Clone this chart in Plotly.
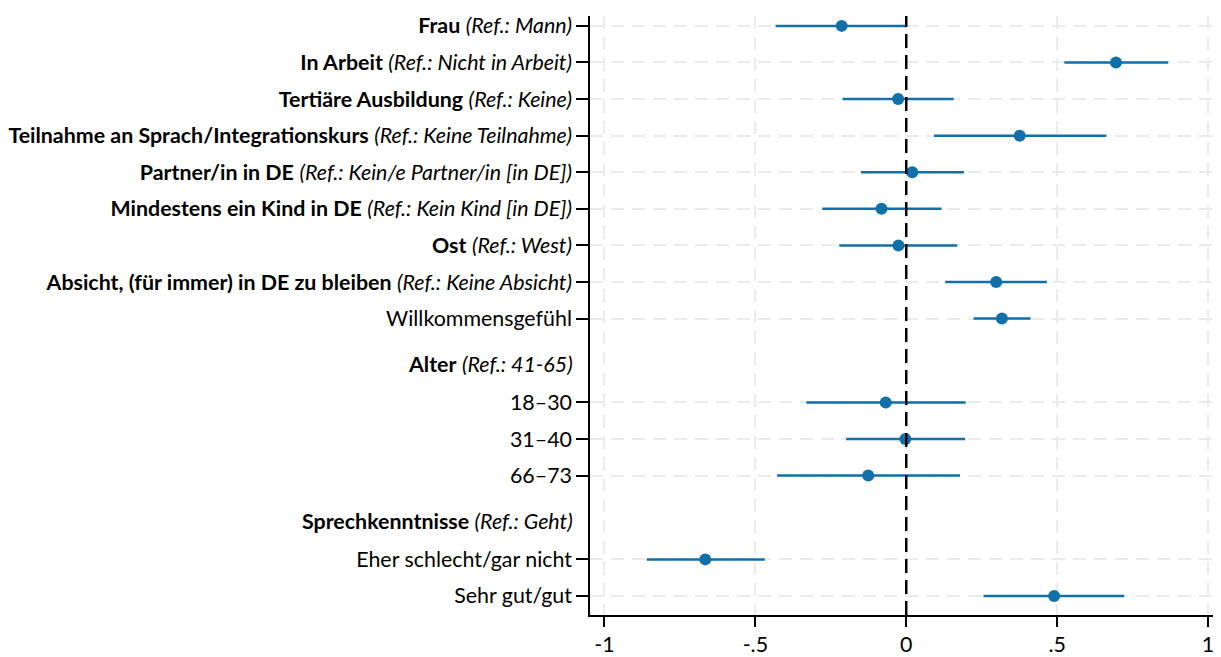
import plotly.graph_objects as go

# rows from top to bottom; None estimate marks a group heading
labels = [
    "<b>Frau</b> <i>(Ref.: Mann)</i>",
    "<b>In Arbeit</b> <i>(Ref.: Nicht in Arbeit)</i>",
    "<b>Tertiäre Ausbildung</b> <i>(Ref.: Keine)</i>",
    "<b>Teilnahme an Sprach/Integrationskurs</b> <i>(Ref.: Keine Teilnahme)</i>",
    "<b>Partner/in in DE</b> <i>(Ref.: Kein/e Partner/in [in DE])</i>",
    "<b>Mindestens ein Kind in DE</b> <i>(Ref.: Kein Kind [in DE])</i>",
    "<b>Ost</b> <i>(Ref.: West)</i>",
    "<b>Absicht, (für immer) in DE zu bleiben</b> <i>(Ref.: Keine Absicht)</i>",
    "Willkommensgefühl",
    "<b>Alter</b> <i>(Ref.: 41-65)</i>",
    "18–30",
    "31–40",
    "66–73",
    "<b>Sprechkenntnisse</b> <i>(Ref.: Geht)</i>",
    "Eher schlecht/gar nicht",
    "Sehr gut/gut",
]
estimate = [-0.214, 0.695, -0.027, 0.376, 0.020, -0.082, -0.026, 0.298, 0.317,
            None, -0.068, -0.003, -0.126, None, -0.666, 0.490]
ci_low = [-0.433, 0.524, -0.211, 0.092, -0.150, -0.278, -0.222, 0.129, 0.223,
          None, -0.331, -0.199, -0.428, None, -0.860, 0.256]
ci_high = [0.000, 0.868, 0.157, 0.663, 0.191, 0.117, 0.169, 0.466, 0.412,
           None, 0.197, 0.195, 0.178, None, -0.469, 0.722]

xtick_vals = [-1, -0.5, 0, 0.5, 1]
xtick_text = ["-1", "-.5", "0", ".5", "1"]

blue = "#1170aa"
font = "Lato"
fsize = 21.4

# vertical positions: one unit per coefficient, a little extra around headings
pos = []
y = 0.0
prev_header = False
for i, est in enumerate(estimate):
    if i > 0:
        if est is None:
            y += 1.24
        elif prev_header:
            y += 1.05
        else:
            y += 1.0
    pos.append(y)
    prev_header = est is None

item_y = [p for p, e in zip(pos, estimate) if e is not None]
item_lab = [l for l, e in zip(labels, estimate) if e is not None]
est = [e for e in estimate if e is not None]
lo = [v for v in ci_low if v is not None]
hi = [v for v in ci_high if v is not None]

fig = go.Figure()
fig.add_trace(go.Scatter(
    x=est, y=item_y, mode="markers",
    marker=dict(color=blue, size=12),
    error_x=dict(type="data", symmetric=False,
                 array=[h - e for h, e in zip(hi, est)],
                 arrayminus=[e - l for e, l in zip(est, lo)],
                 color=blue, thickness=2.5, width=0),
    showlegend=False,
))

fig.add_shape(type="line", x0=0, x1=0, xref="x", y0=0, y1=1, yref="paper",
              line=dict(color="black", width=2.5, dash="14px,7px"))

for p, l, e in zip(pos, labels, estimate):
    if e is None:
        fig.add_annotation(x=0, xref="paper", y=p, yref="y", text=l,
                           showarrow=False, xanchor="right", xshift=-15,
                           font=dict(family=font, size=fsize, color="black"))

fig.update_xaxes(
    range=[-1.048, 1.043], tickvals=xtick_vals, ticktext=xtick_text,
    showline=True, linecolor="black", linewidth=1.5,
    ticks="outside", ticklen=10, tickwidth=1.5, tickcolor="black",
    showgrid=True, gridcolor="#ebebeb", gridwidth=2, griddash="13px,8px",
    zeroline=False, tickfont=dict(family=font, size=fsize, color="black"),
)
fig.update_yaxes(
    range=[pos[-1] + 0.52, -0.27], tickvals=item_y, ticktext=item_lab,
    showline=True, linecolor="black", linewidth=1.5,
    ticks="outside", ticklen=12, tickwidth=1.5, tickcolor="black",
    ticklabelstandoff=0,
    showgrid=True, gridcolor="#ebebeb", gridwidth=2, griddash="13px,8px",
    zeroline=False, tickfont=dict(family=font, size=fsize, color="black"),
)
# page has an 8px body margin, so the figure is 8px smaller than the window
fig.update_layout(
    width=1213, height=649,
    margin=dict(l=582, r=0, t=8, b=40),
    plot_bgcolor="white", paper_bgcolor="white",
)
fig.write_html("out.html")
